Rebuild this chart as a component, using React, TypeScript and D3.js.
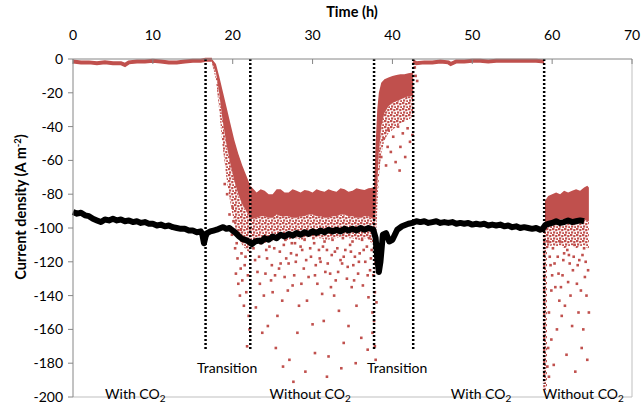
import React from "react";
import * as d3 from "d3";

const RED = "#c0504d";
const FONT = "Lato, 'Open Sans', sans-serif";

const xTicks = [0, 10, 20, 30, 40, 50, 60, 70];
const yTicks = [0, -20, -40, -60, -80, -100, -120, -140, -160, -180, -200];

// vertical switch markers (h) and how far down they go
const switchT = [16.6, 22.2, 37.7, 42.6, 59.0];
const switchEnd = [-172, -172, -172, -172, -192];

// black trace
const blackT = [0, 0.5, 1, 1.5, 2, 2.5, 3, 3.5, 4, 4.5, 5, 5.5, 6, 6.5, 7, 7.5, 8, 8.5, 9, 9.5, 10, 10.5, 11, 11.5, 12, 12.5, 13, 13.5, 14, 14.5, 15, 15.5, 16, 16.2, 16.4, 16.6, 16.8, 17.2, 17.6, 18, 18.5, 18.8, 19.2, 19.6, 20, 20.4, 20.8, 21.2, 21.6, 22, 22.4, 22.8, 23.2, 23.6, 24, 24.5, 25, 25.5, 26, 26.5, 27, 27.5, 28, 28.5, 29, 29.5, 30, 30.5, 31, 31.5, 32, 32.5, 33, 33.5, 34, 34.5, 35, 35.5, 36, 36.5, 37, 37.6, 37.9, 38.1, 38.3, 38.5, 38.8, 39.2, 39.6, 40, 40.6, 41.2, 42, 42.5, 43, 43.5, 44, 44.5, 45, 45.5, 46, 46.5, 47, 47.5, 48, 48.5, 49, 49.5, 50, 50.5, 51, 51.5, 52, 52.5, 53, 53.5, 54, 54.5, 55, 55.5, 56, 56.5, 57, 57.5, 58, 58.5, 58.8, 59.2, 59.6, 60, 60.5, 61, 61.5, 62, 62.5, 63, 63.5, 64, 64.6];
const blackV = [-90.5, -91.5, -91, -92.5, -93, -94.5, -95.5, -96.5, -95, -95.5, -94.5, -95.5, -95, -96, -95.5, -96.5, -96, -97, -96.5, -97.5, -97.5, -98.5, -98, -99, -98.5, -99.5, -100, -100.5, -100.5, -101.5, -101.5, -102.5, -102, -104, -109, -105, -103, -102, -101.5, -101, -100, -99.5, -100.5, -100, -101.5, -103, -105, -106.5, -107, -108, -109.5, -108, -107.5, -108, -106, -107, -105, -106, -104, -105, -103.5, -104.5, -103, -104, -102.5, -103.5, -102, -103, -101.5, -102.5, -101, -102, -101, -102, -100.5, -101.5, -100.5, -101.5, -100, -101, -100, -101, -106, -118, -126, -120, -104, -103, -108, -107, -101, -99, -97.5, -97, -96, -96.5, -96, -97, -96.5, -96, -97, -96.5, -97, -96.5, -97.5, -97, -97.5, -97, -98, -97.5, -98, -97.5, -98.5, -98, -98.5, -98, -99, -98.5, -99.5, -99, -100, -99.5, -100, -100.5, -100, -101, -100.5, -98, -97.5, -97, -96, -97, -96.5, -95.5, -96.5, -96, -95.5, -96];

// red trace, with CO2 plateaus
const red1T = [0, 1, 2, 3, 4, 5, 6, 6.5, 7, 8, 9, 10, 11, 12, 13, 14, 15, 16, 16.6, 17.4];
const red1V = [-1.5, -2, -2, -2.5, -2, -2.5, -2.5, -3.5, -2, -1.5, -1.5, -1, -1.5, -2, -2, -1.5, -1, -1, -0.5, -0.5];
const red3T = [42.6, 43, 44, 45, 46, 47, 47.3, 48, 49, 50, 51, 52, 53, 54, 55, 56, 57, 58, 59];
const red3V = [-1.5, -2.5, -2, -2, -1.5, -2, -3, -1.5, -1.5, -1, -1, -1.5, -1, -1, -1, -1, -1, -1, -1.5];

// red trace, transition to no CO2
const tr1T = [17.4, 17.9, 18.3, 18.7, 19.2, 19.7, 20.2, 20.7, 21.2, 21.7, 22.2];
const tr1Top = [0, -3, -10, -18, -28, -38, -48, -56, -63, -69, -75];
const tr1Solid = [-2, -8, -20, -35, -50, -62, -72, -80, -86, -90, -94];
const tr1Sparse = [-3, -12, -30, -50, -70, -85, -98, -106, -110, -113, -115];

// red trace, without CO2
const wo1T = [22.2, 23, 23.5, 24, 24.5, 25, 25.5, 26, 26.5, 27, 27.5, 28, 28.5, 29, 29.5, 30, 30.5, 31, 31.5, 32, 32.5, 33, 33.5, 34, 34.5, 35, 35.5, 36, 36.5, 37, 37.7];
const wo1Top = [-75, -79, -77, -78, -80, -80, -77, -77, -79, -79, -77, -78, -79, -77.5, -78, -79, -77, -78, -78.5, -77, -78, -78.5, -76.5, -77, -78.5, -78, -76.5, -77, -77.5, -76.5, -76];
const wo1Solid = [-95, -94, -93, -93, -94, -94, -92, -93, -93, -93, -94, -94, -93, -93, -92, -92, -93, -93, -94, -94, -93, -93, -92, -92, -93, -93, -94, -94, -93, -93, -95];
const wo1Sparse = [-110, -108, -107, -106, -107, -108, -106, -105, -107, -107, -106, -106, -107, -107, -105, -105, -106, -106, -107, -107, -106, -106, -105, -105, -106, -106, -107, -107, -106, -106, -112];

// red trace, transition back to CO2
const tr2T = [37.7, 37.9, 38.1, 38.3, 38.6, 39, 39.5, 40, 40.5, 41, 41.5, 42, 42.6];
const tr2Top = [-76, -50, -30, -20, -14, -12, -11, -10, -9.5, -9, -9, -8.5, -8];
const tr2Solid = [-100, -90, -75, -55, -40, -32, -28, -26, -25, -24, -23, -22, -22];
const tr2Sparse = [-130, -112, -90, -70, -56, -48, -44, -42, -40, -38, -37, -36, -34];

// red trace, second period without CO2
const wo2T = [59.1, 59.5, 60, 60.5, 61, 61.5, 62, 62.5, 63, 63.5, 64, 64.4, 64.6];
const wo2Top = [-84, -81, -80, -79, -80, -78, -79, -78, -77, -78, -76, -75, -76];
const wo2Solid = [-100, -97, -96, -95, -95, -95, -96, -95, -96, -95, -95, -96, -96];
const wo2Sparse = [-114, -112, -110, -111, -110, -112, -111, -110, -112, -111, -110, -112, -112];

// red points running down the 59 h marker
const colT = [58.85, 59.35];
const colTop = [-96, -98];
const colBot = [-196, -196];

// scattered red points [t, value]
const scatter1: [number, number][] = [
  [19.6, -92], [19.9, -104], [20.1, -96], [20.3, -112], [20.6, -118], [20.8, -103], [21.0, -124], [21.2, -131],
  [20.4, -127], [21.5, -122], [21.7, -138], [21.4, -146], [21.9, -128], [22.0, -152], [21.1, -115], [20.9, -140],
  [22.1, -160], [21.8, -170], [20.7, -133], [21.3, -108], [19.3, -80], [19.0, -74], [20.0, -88], [20.5, -109],
  [21.6, -117], [21.0, -101],
];
const scatter2: [number, number][] = [
  [22.6, -112], [23.1, -126], [23.5, -109], [23.9, -140], [24.3, -118], [24.8, -131], [25.2, -112], [25.6, -152],
  [26.0, -121], [26.4, -110], [26.9, -137], [27.3, -115], [27.7, -128], [28.1, -162], [28.5, -111], [28.9, -124],
  [29.3, -143], [29.8, -117], [30.2, -109], [30.6, -133], [31.0, -120], [31.4, -155], [31.8, -113], [32.2, -127],
  [32.7, -140], [33.1, -112], [33.5, -119], [33.9, -168], [34.3, -130], [34.7, -110], [35.1, -122], [35.5, -146],
  [35.9, -115], [36.3, -134], [36.8, -111], [37.2, -125], [37.5, -150],
  [22.9, -147], [23.3, -117], [23.7, -162], [24.1, -127], [24.6, -111], [25.0, -138], [25.4, -171], [25.8, -124],
  [26.2, -143], [26.7, -118], [27.1, -178], [27.5, -134], [27.9, -120], [28.3, -146], [28.7, -113], [29.1, -185],
  [29.5, -129], [30.0, -157], [30.4, -122], [30.8, -113], [31.2, -139], [31.6, -126], [32.0, -176], [32.4, -116],
  [32.9, -131], [33.3, -149], [33.7, -121], [34.1, -113], [34.5, -158], [34.9, -135], [35.3, -117], [35.7, -127],
  [36.1, -165], [36.6, -120], [37.0, -141], [37.4, -113],
  [23.0, -107], [24.0, -108], [25.5, -106], [26.6, -107], [27.8, -109], [29.0, -107], [30.1, -106], [31.5, -108],
  [32.5, -107], [33.8, -106], [35.0, -108], [36.2, -107], [37.1, -106],
  [22.8, -119], [23.4, -133], [24.2, -113], [24.9, -122], [25.3, -128], [25.9, -114], [26.5, -129], [27.0, -121],
  [27.4, -109], [28.0, -116], [28.6, -133], [29.2, -119], [29.7, -112], [30.3, -128], [30.9, -118], [31.3, -111],
  [31.9, -121], [32.3, -135], [32.8, -114], [33.2, -126], [33.9, -117], [34.4, -123], [34.8, -114], [35.2, -131],
  [35.8, -120], [36.4, -113], [36.9, -128], [37.3, -118],
  [27.6, -191], [30.3, -174], [33.6, -183], [35.4, -180], [24.4, -158], [26.3, -182], [31.8, -188], [36.9, -172],
];
const scatter3: [number, number][] = [
  [38.6, -58], [38.9, -47], [39.2, -63], [39.5, -42], [39.8, -55], [40.1, -46], [40.4, -61], [40.7, -40],
  [41.0, -52], [41.3, -44], [41.6, -58], [41.9, -41], [42.2, -49], [40.9, -66], [39.4, -52], [42.5, -45],
  [42.8, -5], [42.9, -10], [43.1, -13],
  [37.6, -128], [37.8, -138], [37.7, -155], [37.9, -117], [38.0, -144], [37.5, -162], [37.8, -170], [38.1, -126], [37.9, -178],
];
const scatter4: [number, number][] = [
  [59.5, -108], [59.8, -122], [60.1, -112], [60.4, -135], [60.7, -117], [61.0, -108], [61.3, -128], [61.6, -146],
  [61.9, -113], [62.2, -121], [62.5, -158], [62.8, -110], [63.1, -133], [63.4, -119], [63.7, -171], [64.0, -112],
  [64.3, -140], [64.5, -125], [59.6, -150], [59.9, -166], [60.2, -181], [60.6, -160], [61.2, -152], [61.8, -175],
  [62.3, -140], [62.9, -185], [63.3, -150], [63.9, -160], [64.4, -178], [60.0, -128], [60.9, -143], [61.5, -115],
  [62.0, -132], [62.6, -125], [63.6, -137], [64.2, -120], [64.6, -150], [59.4, -182], [59.6, -188], [59.5, -171],
  [59.7, -117], [60.3, -121], [60.8, -127], [61.4, -119], [62.1, -116], [62.7, -117], [63.2, -122], [63.8, -116],
  [64.1, -129], [59.9, -137], [61.1, -135],
];

const periodLabels = [
  { text: "Transition", t: 19.3, v: -183, sub: false },
  { text: "Transition", t: 40.6, v: -183, sub: false },
  { text: "With CO", t: 7.8, v: -198, sub: true },
  { text: "Without CO", t: 29.7, v: -198, sub: true },
  { text: "With CO", t: 51.1, v: -198, sub: true },
  { text: "Without CO", t: 63.9, v: -198, sub: true },
];

export default function App() {
  const x = d3.scaleLinear().domain([0, 70]).range([73, 632]);
  const y = d3.scaleLinear().domain([0, -200]).range([59, 397]);

  const line = (ts: number[], vs: number[]) =>
    d3.line<number>().x((_, i) => x(ts[i])).y((_, i) => y(vs[i]))(ts) || "";
  const band = (ts: number[], top: number[], bot: number[]) =>
    d3.area<number>().x((_, i) => x(ts[i])).y0((_, i) => y(bot[i])).y1((_, i) => y(top[i]))(ts) || "";

  const bands = [
    [tr1T, tr1Top, tr1Solid, tr1Sparse],
    [wo1T, wo1Top, wo1Solid, wo1Sparse],
    [tr2T, tr2Top, tr2Solid, tr2Sparse],
    [wo2T, wo2Top, wo2Solid, wo2Sparse],
  ];
  const scatter = [...scatter1, ...scatter2, ...scatter3, ...scatter4];

  return (
    <svg width={643} height={405} style={{ position: "absolute", left: 0, top: 0, background: "#fff" }} fontFamily={FONT}>
      <defs>
        <pattern id="stip" width={6} height={6} patternUnits="userSpaceOnUse">
          <rect x={0} y={0} width={2.4} height={2.2} fill={RED} />
          <rect x={3.2} y={1} width={2.2} height={2.2} fill={RED} />
          <rect x={1} y={3.4} width={2.2} height={2.2} fill={RED} />
          <rect x={4.2} y={4.2} width={1.8} height={1.8} fill={RED} />
        </pattern>
      </defs>

      {/* plot frame */}
      <line x1={632} x2={632} y1={59} y2={397} stroke="#bfbfbf" />
      <line x1={73} x2={632} y1={397} y2={397} stroke="#bfbfbf" />

      {/* red series */}
      <path d={line(red1T, red1V)} fill="none" stroke={RED} strokeWidth={4} />
      <path d={line(red3T, red3V)} fill="none" stroke={RED} strokeWidth={4} />
      {bands.map(([t, top, solid, sparse], i) => (
        <g key={i}>
          <path d={band(t, solid, sparse)} fill="url(#stip)" />
          <path d={band(t, top, solid)} fill={RED} />
        </g>
      ))}
      <path d={band(colT, colTop, colBot)} fill="url(#stip)" />
      {scatter.map(([t, v], i) => (
        <rect key={i} x={x(t) - 1.3} y={y(v) - 1.3} width={2.6} height={2.6} fill={RED} />
      ))}

      {/* black series */}
      <path d={line(blackT, blackV)} fill="none" stroke="#000" strokeWidth={6} strokeLinejoin="round" />

      {/* switch markers */}
      {switchT.map((t, i) => (
        <line key={i} x1={x(t)} x2={x(t)} y1={y(0)} y2={y(switchEnd[i])} stroke="#000" strokeWidth={2.5} strokeDasharray="2 2" />
      ))}

      {/* x axis on top */}
      <line x1={73} x2={632} y1={59} y2={59} stroke="#868686" />
      {xTicks.map((t) => (
        <g key={t}>
          <line x1={x(t)} x2={x(t)} y1={59} y2={64} stroke="#868686" />
          <text x={x(t)} y={40} textAnchor="middle" fontSize={14} fill="#000">{t}</text>
        </g>
      ))}
      <text x={352} y={17} textAnchor="middle" fontSize={14.5} fontWeight="bold">Time (h)</text>

      {/* y axis */}
      <line x1={73} x2={73} y1={59} y2={397} stroke="#868686" />
      {yTicks.map((v) => (
        <g key={v}>
          <line x1={68} x2={73} y1={y(v)} y2={y(v)} stroke="#868686" />
          <text x={63} y={y(v) + 5} textAnchor="end" fontSize={14} fill="#000">{v}</text>
        </g>
      ))}
      <text transform="translate(26,207) rotate(-90)" textAnchor="middle" fontSize={14.5} fontWeight="bold">
        Current density (A m<tspan dy={-5} fontSize={9.5}>-2</tspan><tspan dy={5}>)</tspan>
      </text>

      {/* period labels */}
      {periodLabels.map((l, i) => (
        <text key={i} x={x(l.t)} y={y(l.v) + 5} textAnchor="middle" fontSize={14} fill="#000">
          {l.text}
          {l.sub && <tspan dy={3} fontSize={10}>2</tspan>}
        </text>
      ))}
    </svg>
  );
}
